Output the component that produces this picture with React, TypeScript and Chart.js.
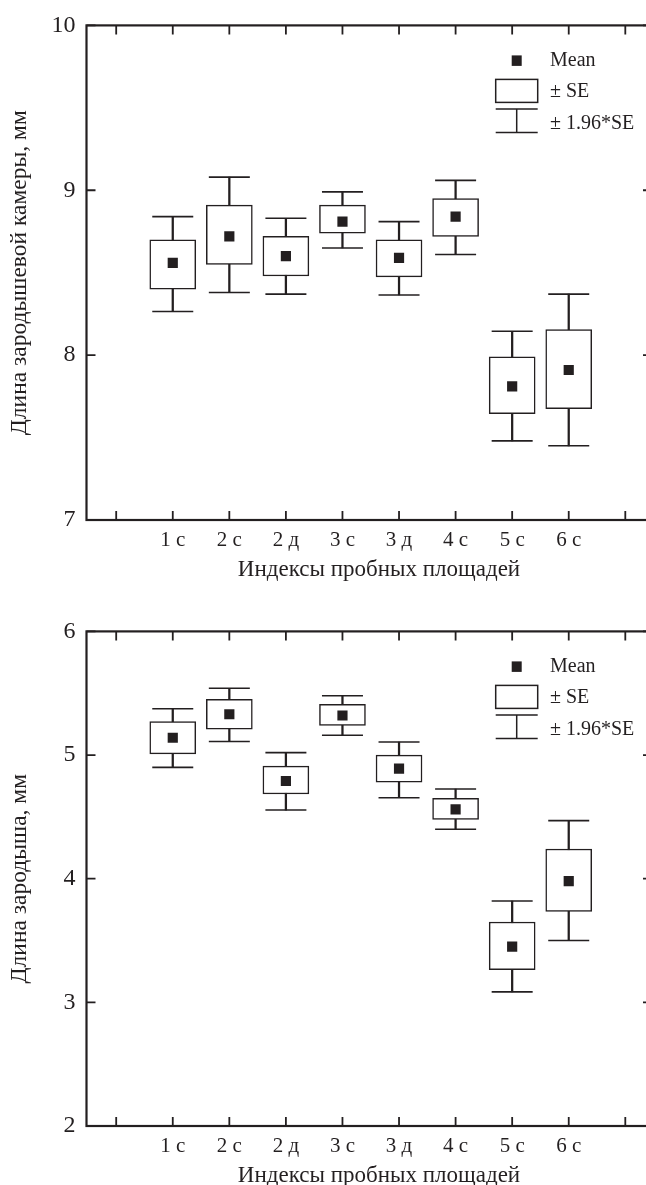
import React, { useEffect, useRef } from 'react';
import { Chart, registerables } from 'chart.js';

Chart.register(...registerables);

// ---------- data ----------
const categories = ['1 с', '2 с', '2 д', '3 с', '3 д', '4 с', '5 с', '6 с'];
const positions = [1, 2, 3, 4, 5, 6, 7, 8];
const xTickValues = [0, 1, 2, 3, 4, 5, 6, 7, 8, 9];

// Chart 1: length of the germ chamber, mm
const chamberMean = [8.56, 8.72, 8.6, 8.81, 8.59, 8.84, 7.81, 7.91];
const chamberSeLow = [8.4, 8.55, 8.48, 8.74, 8.475, 8.72, 7.645, 7.675];
const chamberSeHigh = [8.7, 8.91, 8.72, 8.91, 8.7, 8.95, 7.99, 8.155];
const chamberCiLow = [8.265, 8.38, 8.37, 8.65, 8.365, 8.61, 7.48, 7.45];
const chamberCiHigh = [8.84, 9.08, 8.83, 8.99, 8.81, 9.06, 8.145, 8.37];

// Chart 2: length of the embryo, mm
const embryoMean = [5.14, 5.33, 4.79, 5.32, 4.89, 4.56, 3.45, 3.98];
const embryoSeLow = [5.01, 5.21, 4.685, 5.24, 4.78, 4.48, 3.265, 3.735];
const embryoSeHigh = [5.27, 5.45, 4.91, 5.41, 5.0, 4.65, 3.65, 4.24];
const embryoCiLow = [4.9, 5.11, 4.555, 5.16, 4.655, 4.4, 3.085, 3.5];
const embryoCiHigh = [5.375, 5.54, 5.02, 5.48, 5.105, 4.725, 3.82, 4.47];

const legendLabels = ['Mean', '± SE', '± 1.96*SE'];
const xTitle = 'Индексы пробных площадей';
const chamberTitle = 'Длина зародышевой камеры, мм';
const embryoTitle = 'Длина зародыша, мм';

// ---------- styling ----------
const INK = '#231f20';
const FONT = "'Liberation Serif', 'Times New Roman', serif";
const CANVAS_W = 660;
const CANVAS_H = 607;

const framePlugin = {
  id: 'frameTicks',
  afterDatasetsDraw(chart: any) {
    const { ctx, chartArea } = chart;
    const { left, right, top, bottom } = chartArea;
    const xs = chart.scales.x;
    const ys = chart.scales.y;
    ctx.save();
    ctx.strokeStyle = INK;
    ctx.lineWidth = 1.8;
    ctx.beginPath();
    xs.ticks.forEach((t: any) => {
      const px = xs.getPixelForValue(t.value);
      ctx.moveTo(px, top);
      ctx.lineTo(px, top + 9);
      ctx.moveTo(px, bottom);
      ctx.lineTo(px, bottom - 9);
    });
    ys.ticks.forEach((t: any) => {
      const py = ys.getPixelForValue(t.value);
      ctx.moveTo(left, py);
      ctx.lineTo(left + 9, py);
      ctx.moveTo(right, py);
      ctx.lineTo(right - 9, py);
    });
    ctx.stroke();
    ctx.lineWidth = 2.2;
    ctx.strokeRect(left, top, right - left, bottom - top);
    ctx.restore();
  },
};

const xTitlePlugin = {
  id: 'xTitleText',
  afterDraw(chart: any) {
    const { ctx, chartArea } = chart;
    ctx.save();
    ctx.fillStyle = INK;
    ctx.font = `23px ${FONT}`;
    ctx.textAlign = 'center';
    ctx.textBaseline = 'alphabetic';
    ctx.fillText(xTitle, 379, chartArea.bottom + 56);
    ctx.restore();
  },
};

const legendPlugin = {
  id: 'boxLegend',
  afterDraw(chart: any) {
    const { ctx, chartArea } = chart;
    const t = chartArea.top;
    const boxL = 495.7;
    const boxR = 537.7;
    const cx = (boxL + boxR) / 2;
    ctx.save();
    ctx.fillStyle = INK;
    ctx.strokeStyle = INK;
    // mean marker
    ctx.fillRect(cx - 5, t + 30, 10, 10.5);
    // SE box
    ctx.lineWidth = 1.5;
    ctx.strokeRect(boxL, t + 54, boxR - boxL, 23);
    // whisker symbol
    ctx.beginPath();
    ctx.moveTo(boxL, t + 83.5);
    ctx.lineTo(boxR, t + 83.5);
    ctx.moveTo(cx, t + 83.5);
    ctx.lineTo(cx, t + 107);
    ctx.moveTo(boxL, t + 107);
    ctx.lineTo(boxR, t + 107);
    ctx.stroke();
    // labels
    ctx.font = `20px ${FONT}`;
    ctx.textAlign = 'left';
    ctx.textBaseline = 'alphabetic';
    ctx.fillText(legendLabels[0], 550, t + 40.3);
    ctx.fillText(legendLabels[1], 550, t + 72);
    ctx.fillText(legendLabels[2], 550, t + 103.6);
    ctx.restore();
  },
};

type PanelProps = {
  mean: number[];
  seLow: number[];
  seHigh: number[];
  ciLow: number[];
  ciHigh: number[];
  yMin: number;
  yMax: number;
  yTitle: string;
  top: number;
};

function Panel({ mean, seLow, seHigh, ciLow, ciHigh, yMin, yMax, yTitle, top }: PanelProps) {
  const ref = useRef<HTMLCanvasElement | null>(null);

  useEffect(() => {
    if (!ref.current) return;
    const chart = new Chart(ref.current, {
      type: 'bar',
      data: {
        datasets: [
          {
            type: 'bar',
            label: 'stem',
            data: positions.map((p, i) => ({ x: p, y: [ciLow[i], ciHigh[i]] })) as any,
            backgroundColor: INK,
            borderWidth: 0,
            barThickness: 1.6,
            grouped: false,
            order: 4,
          } as any,
          {
            type: 'bar',
            label: legendLabels[1],
            data: positions.map((p, i) => ({ x: p, y: [seLow[i], seHigh[i]] })) as any,
            backgroundColor: '#ffffff',
            borderColor: INK,
            borderWidth: 1.5,
            borderSkipped: false,
            barThickness: 46,
            grouped: false,
            order: 3,
          } as any,
          {
            type: 'scatter',
            label: 'capHigh',
            data: positions.map((p, i) => ({ x: p, y: ciHigh[i] })),
            pointStyle: 'line',
            pointRadius: 20.5,
            pointHoverRadius: 20.5,
            pointBorderColor: INK,
            pointBorderWidth: 1.6,
            order: 2,
          } as any,
          {
            type: 'scatter',
            label: 'capLow',
            data: positions.map((p, i) => ({ x: p, y: ciLow[i] })),
            pointStyle: 'line',
            pointRadius: 20.5,
            pointHoverRadius: 20.5,
            pointBorderColor: INK,
            pointBorderWidth: 1.6,
            order: 2,
          } as any,
          {
            type: 'scatter',
            label: legendLabels[0],
            data: positions.map((p, i) => ({ x: p, y: mean[i] })),
            pointStyle: 'rect',
            pointRadius: 7.2,
            pointHoverRadius: 7.2,
            pointBackgroundColor: INK,
            pointBorderWidth: 0,
            order: 1,
          } as any,
        ],
      },
      options: {
        responsive: false,
        maintainAspectRatio: false,
        animation: false,
        events: [],
        layout: { autoPadding: false, padding: { left: 0, right: 8, top: 25, bottom: 0 } },
        plugins: {
          legend: { display: false },
          tooltip: { enabled: false },
        },
        scales: {
          x: {
            type: 'linear',
            min: -0.525,
            max: 9.472,
            offset: false,
            grid: { display: false, drawTicks: false },
            border: { display: false },
            ticks: {
              stepSize: 1,
              includeBounds: false,
              autoSkip: false,
              maxRotation: 0,
              padding: 8,
              color: INK,
              font: { family: FONT, size: 21 },
              callback: (v: any) => {
                const idx = positions.indexOf(Number(v));
                return idx >= 0 ? categories[idx] : '';
              },
            },
            afterBuildTicks: (scale: any) => {
              scale.ticks = xTickValues.map((v) => ({ value: v }));
            },
            title: { display: false },
            afterFit: (scale: any) => {
              scale.height = CANVAS_H - 520;
            },
          } as any,
          y: {
            type: 'linear',
            min: yMin,
            max: yMax,
            grid: { display: false, drawTicks: false },
            border: { display: false },
            ticks: {
              stepSize: 1,
              padding: 11,
              color: INK,
              font: { family: FONT, size: 24 },
            },
            title: {
              display: true,
              text: yTitle,
              color: INK,
              font: { family: FONT, size: 23.5 },
              padding: { top: 6, bottom: 0 },
            },
            afterFit: (scale: any) => {
              scale.width = 86.5;
            },
          } as any,
        },
      },
      plugins: [framePlugin, legendPlugin, xTitlePlugin],
    });
    return () => chart.destroy();
  }, []);

  return (
    <div style={{ position: 'absolute', left: 0, top, width: CANVAS_W, height: CANVAS_H }}>
      <canvas ref={ref} width={CANVAS_W} height={CANVAS_H} style={{ display: 'block', width: CANVAS_W, height: CANVAS_H }} />
    </div>
  );
}

export default function App() {
  return (
    <div
      style={{
        position: 'absolute',
        left: 0,
        top: 0,
        width: 646,
        height: 1185,
        overflow: 'hidden',
        background: '#ffffff',
      }}
    >
      <Panel
        mean={chamberMean}
        seLow={chamberSeLow}
        seHigh={chamberSeHigh}
        ciLow={chamberCiLow}
        ciHigh={chamberCiHigh}
        yMin={7}
        yMax={10}
        yTitle={chamberTitle}
        top={0}
      />
      <Panel
        mean={embryoMean}
        seLow={embryoSeLow}
        seHigh={embryoSeHigh}
        ciLow={embryoCiLow}
        ciHigh={embryoCiHigh}
        yMin={2}
        yMax={6}
        yTitle={embryoTitle}
        top={606}
      />
    </div>
  );
}
